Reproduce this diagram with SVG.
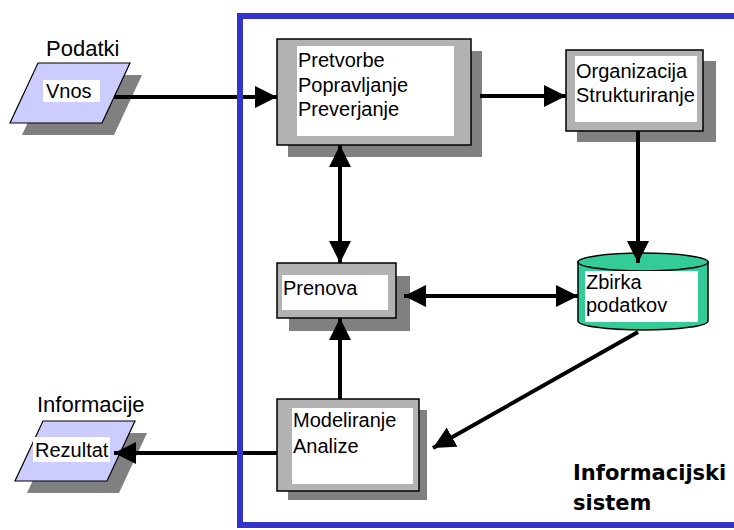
<svg xmlns="http://www.w3.org/2000/svg" width="734" height="530" viewBox="0 0 734 530">
  <style>
    .lbl { font-family: "Liberation Sans", Arial, sans-serif; font-size: 20px; fill: #000; }
    .head { font-family: "Liberation Sans", Arial, sans-serif; font-size: 22px; fill: #000; }
    .title { font-family: "DejaVu Sans", Verdana, sans-serif; font-size: 21px; font-weight: bold; fill: #000; }
    .frame { fill: #b2b2b2; stroke: #000; stroke-width: 1.5; }
    .shadow { fill: #808080; stroke: none; }
    .inner { fill: #fff; stroke: none; }
    .io { fill: #ccccff; stroke: #000; stroke-width: 1.2; }
    .conn { stroke: #000; stroke-width: 4; fill: none; }
  </style>
  <defs>
    <marker id="arrow" markerUnits="userSpaceOnUse" markerWidth="24" markerHeight="24" refX="22" refY="11" orient="auto-start-reverse">
      <path d="M0,0 L22,11 L0,22 z" fill="#000"/>
    </marker>
  </defs>
  <rect width="734" height="530" fill="#fff"/>

  <!-- input: Podatki / Vnos -->
  <g id="podatki">
    <text class="head" x="46" y="56">Podatki</text>
    <polygon class="shadow" points="50,75 142,75 114,135 22,135"/>
    <polygon class="io" points="38,63 130,63 102,123 10,123"/>
    <rect class="inner" x="43" y="80" width="57" height="22"/>
    <text class="lbl" x="46" y="98">Vnos</text>
  </g>

  <!-- output: Informacije / Rezultat -->
  <g id="informacije">
    <text class="head" x="37" y="412">Informacije</text>
    <polygon class="shadow" points="55,433 147,433 119,493 27,493"/>
    <polygon class="io" points="43,421 135,421 107,481 15,481"/>
    <rect class="inner" x="33" y="437" width="77" height="25"/>
    <text class="lbl" x="35" y="457">Rezultat</text>
  </g>

  <!-- processing boxes -->
  <g id="pretvorbe">
    <rect class="shadow" x="288" y="51" width="194" height="106"/>
    <rect class="frame" x="277" y="39" width="194" height="106"/>
    <rect class="inner" x="297" y="46" width="157" height="90"/>
    <text class="lbl" x="298" y="67">Pretvorbe</text>
    <text class="lbl" x="298" y="92">Popravljanje</text>
    <text class="lbl" x="298" y="116">Preverjanje</text>
  </g>

  <g id="organizacija">
    <rect class="shadow" x="577" y="61" width="139" height="81"/>
    <rect class="frame" x="566" y="50" width="137" height="81"/>
    <rect class="inner" x="575" y="56" width="122" height="66"/>
    <text class="lbl" x="576" y="78">Organizacija</text>
    <text class="lbl" x="576" y="102">Strukturiranje</text>
  </g>

  <g id="prenova">
    <rect class="shadow" x="289" y="276" width="121" height="55"/>
    <rect class="frame" x="277" y="263" width="119" height="55"/>
    <rect class="inner" x="282" y="275" width="106" height="35"/>
    <text class="lbl" x="283" y="295">Prenova</text>
  </g>

  <g id="modeliranje">
    <rect class="shadow" x="288" y="410" width="139" height="90"/>
    <rect class="frame" x="277" y="399" width="142" height="92"/>
    <rect class="inner" x="292" y="408" width="121" height="76"/>
    <text class="lbl" x="293" y="427">Modeliranje</text>
    <text class="lbl" x="293" y="453">Analize</text>
  </g>

  <!-- data store -->
  <g id="zbirka">
    <path d="M578,262 V321 A65,9 0 0 0 708,321 V262 Z" fill="#33cc99" stroke="#000" stroke-width="1.5"/>
    <ellipse cx="643" cy="262" rx="65" ry="9" fill="#33cc99" stroke="#000" stroke-width="1.5"/>
    <rect class="inner" x="585" y="271" width="113" height="51"/>
    <text class="lbl" x="586" y="289">Zbirka</text>
    <text class="lbl" x="586" y="312">podatkov</text>
  </g>

  <!-- connectors -->
  <g id="connectors">
    <path class="conn" d="M114,97 H277" marker-end="url(#arrow)"/>
    <path class="conn" d="M480,96 H566" marker-end="url(#arrow)"/>
    <path class="conn" d="M638,131 V263" marker-end="url(#arrow)"/>
    <path class="conn" d="M340,145 V263" marker-start="url(#arrow)" marker-end="url(#arrow)"/>
    <path class="conn" d="M404,296 H578" marker-start="url(#arrow)" marker-end="url(#arrow)"/>
    <path class="conn" d="M340,399 V318" marker-end="url(#arrow)"/>
    <path class="conn" d="M638,332 L433,448" marker-end="url(#arrow)"/>
    <path class="conn" d="M277,453 H114" marker-end="url(#arrow)"/>
  </g>

  <!-- system boundary -->
  <g id="sistem">
    <rect x="240" y="16" width="600" height="509" fill="none" stroke="#3333cc" stroke-width="6"/>
    <text class="title" x="573" y="480">Informacijski</text>
    <text class="title" x="573" y="510">sistem</text>
  </g>
</svg>
